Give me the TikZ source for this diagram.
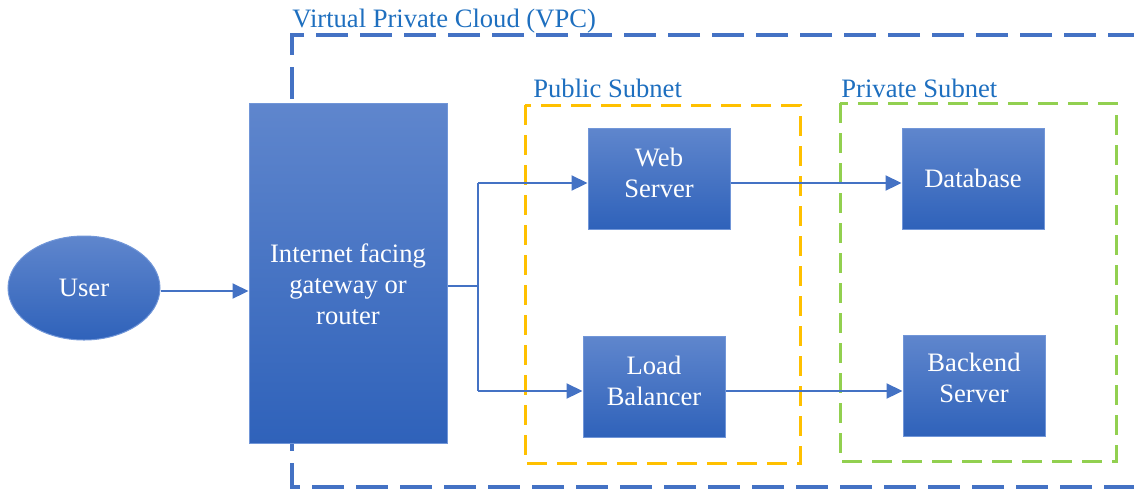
\documentclass[tikz,border=0pt]{standalone}
\usepackage{fontspec}
\setmainfont{Liberation Serif}
\usetikzlibrary{positioning}
\usetikzlibrary{arrows.meta,shapes.geometric}
\definecolor{boxtop}{HTML}{5F86CD}
\definecolor{boxbot}{HTML}{2F62BA}
\definecolor{boxline}{HTML}{7196D8}
\definecolor{vpcblue}{HTML}{4472C4}
\definecolor{labelblue}{HTML}{1E6FBF}
\definecolor{subnetyellow}{HTML}{FFC000}
\definecolor{subnetgreen}{HTML}{92D050}

\begin{document}
\begin{tikzpicture}
    [x=0.5pt, y=-0.5pt,
    post/.style={-{Triangle[length=8pt,width=7.5pt]},
                 vpcblue,
                 line width=1.1pt},
    feed/.style={vpcblue,
                 line width=0.6pt},
    ob/.style={rectangle,
               draw=boxline,
               line width=0.5pt,
               top color=boxtop,
               bottom color=boxbot,
               minimum width=71pt,
               minimum height=50.5pt,
               inner sep=1mm,
               align=center,
               font=\fontsize{13.3}{15.5}\selectfont,
               text=white},
    boxtext/.style={align=center,
                    inner sep=0pt,
                    font=\fontsize{13.3}{15.5}\selectfont,
                    text=white},
    zone/.style={dash pattern=on 10pt off 5pt,
                 line width=1.5pt},
    zonelabel/.style={anchor=base west,
                      text=labelblue,
                      inner sep=0pt,
                      font=\fontsize{13.3}{15}\selectfont}]
    \useasboundingbox (0,0) rectangle (1134,489);
    % cloud and subnets
    \draw[vpcblue, line width=2pt, dash pattern=on 16pt off 6pt]
        (1140,35) -- (292,35) -- (292,487) -- (1140,487);
    \draw[zone, subnetyellow] (525,105) rectangle (800,463);
    \draw[zone, subnetgreen] (840,103) rectangle (1116,461);
    \node[zonelabel] (VPCLabel) at (292,27) {Virtual Private Cloud (VPC)};
    \node[zonelabel] (PublicLabel) at (533,97) {Public Subnet};
    \node[zonelabel] (PrivateLabel) at (841,97) {Private Subnet};
    % nodes
    \node[ob,
          shape=ellipse,
          minimum width=76pt,
          minimum height=52pt] (User) at (84,288) {User};
    \node[ob,
          minimum width=99pt,
          minimum height=170pt,
          label={[boxtext,yshift=-5.5pt]center:{Internet facing\\gateway or\\router}}] (Gateway) at (348,273) {};
    \node[ob,
          label={[boxtext,yshift=3pt]center:{Web\\Server}}] (Web) at (659,178.5) {};
    \node[ob,
          label={[boxtext,yshift=3pt]center:{Load\\Balancer}}] (Balancer) at (654,387) {};
    \node[ob] (Database) at (973,178.5) {Database};
    \node[ob,
          label={[boxtext,yshift=4pt]center:{Backend\\Server}}] (Backend) at (974,386) {};
    \coordinate (Split) at (478,286);
    % connectors
    \draw[post] (User.east |- 0,291) -- (Gateway.west |- 0,291);
    \draw[feed] (Gateway.east |- Split) -- (Split);
    \draw[feed] (Split |- 0,183) -- (Split |- 0,391);
    \draw[post] (Split |- 0,183) -- (Web.west |- 0,183);
    \draw[post] (Split |- 0,391) -- (Balancer.west |- 0,391);
    \draw[post] (Web.east |- 0,183) -- (Database.west |- 0,183);
    \draw[post] (Balancer.east |- 0,391) -- (Backend.west |- 0,391);
\end{tikzpicture}
\end{document}
